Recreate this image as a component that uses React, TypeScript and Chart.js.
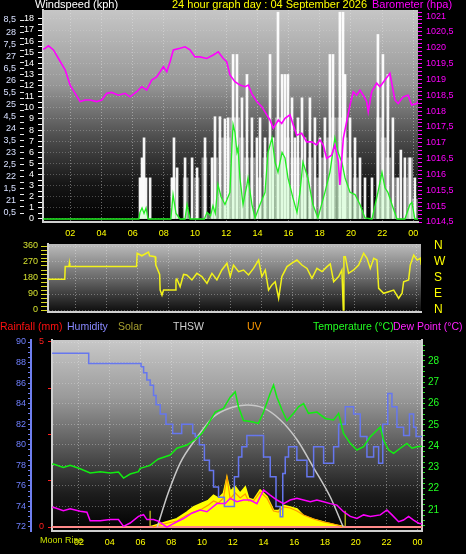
import React, { useEffect, useRef } from 'react';
import { Chart, registerables } from 'chart.js';
Chart.register(...registerables);

const FONT = "'Liberation Sans', Arial, sans-serif";
Chart.defaults.font.family = FONT;

// ---------- shared time axis ----------
const timeMin = 0.25;
const timeMax = 24.3;
const hourTicks = [2, 4, 6, 8, 10, 12, 14, 16, 18, 20, 22, 24];
const hourLabels = ['02', '04', '06', '08', '10', '12', '14', '16', '18', '20', '22', '00'];

// ---------- top panel: wind speed + barometer ----------
const windLabelValues = [0, 1, 2, 3, 4, 5, 6, 7, 8, 9, 10, 11, 12, 13, 14, 15, 16, 17, 18];
const outerAxisLabels = ['0,5', '21', '1,5', '22', '2,5', '23', '3,5', '24', '4,5', '25', '5,5', '26', '6,5', '27', '7,5', '28', '8,5'];
const baroLabelValues = [1014.5, 1015, 1015.5, 1016, 1016.5, 1017, 1017.5, 1018, 1018.5, 1019, 1019.5, 1020, 1020.5, 1021];

const baro: [number, number][] = [
  [0.26, 1019.95], [0.38, 1019.98], [0.6, 1020.06], [0.92, 1019.93], [1.24, 1019.66], [1.67, 1019.3], [1.99, 1018.82],
  [2.31, 1018.56], [2.63, 1018.3], [2.95, 1018.35], [3.27, 1018.35], [3.7, 1018.3], [4.02, 1018.35], [4.34, 1018.56],
  [4.66, 1018.59], [5.08, 1018.5], [5.51, 1018.56], [5.83, 1018.45], [6.26, 1018.61], [6.58, 1018.77], [6.9, 1018.66],
  [7.22, 1018.98], [7.54, 1019.08], [7.97, 1019.4], [8.19, 1019.24], [8.4, 1019.56], [8.61, 1019.93], [9.04, 1019.98],
  [9.36, 1020.03], [9.68, 1019.93], [10.0, 1019.71], [10.32, 1019.71], [10.75, 1019.66], [11.17, 1019.77], [11.49, 1019.87],
  [11.81, 1019.66], [12.03, 1019.56], [12.24, 1019.14], [12.56, 1018.93], [12.88, 1018.82], [13.21, 1018.77], [13.42, 1018.82],
  [13.63, 1018.56], [13.96, 1018.3], [14.28, 1018.14], [14.6, 1017.88], [14.81, 1017.72], [15.02, 1017.46], [15.34, 1017.72],
  [15.56, 1017.61], [15.77, 1017.77], [16.09, 1017.88], [16.3, 1017.56], [16.52, 1017.24], [16.84, 1017.3], [17.16, 1017.03],
  [17.48, 1017.03], [17.8, 1016.93], [18.01, 1017.09], [18.22, 1016.93], [18.44, 1016.51], [18.76, 1016.61], [18.97, 1016.93],
  [19.19, 1016.4], [19.29, 1015.67], [19.51, 1017.14], [19.72, 1017.66], [19.94, 1018.19], [20.15, 1018.61], [20.37, 1018.5],
  [20.58, 1018.66], [20.79, 1018.5], [21.01, 1018.3], [21.11, 1017.98], [21.33, 1018.61], [21.65, 1018.88], [21.86, 1018.77],
  [22.18, 1018.98], [22.5, 1019.19], [22.82, 1018.35], [23.03, 1018.24], [23.35, 1018.45], [23.67, 1018.5], [23.89, 1018.19],
  [24.21, 1018.24], [24.3, 1018.3],
];

const windAvg: [number, number][] = [
  [0.26, 0], [6.4, 0], [6.47, 0.6], [6.6, 1.0], [6.73, 0.5], [6.86, 1.0], [6.99, 0], [8.45, 0], [8.59, 2.2], [8.78, 0.5],
  [9.04, 0], [9.36, 0], [9.49, 1.3], [9.68, 0], [10.6, 0], [10.77, 0.6], [11.0, 0.3], [11.15, 1.2], [11.3, 0.5], [11.47, 3.1],
  [11.67, 2.0], [11.92, 1.3], [12.24, 2.4], [12.37, 6.7], [12.44, 8.5], [12.56, 7.8], [12.69, 6.0], [12.76, 6.4], [12.88, 3.7],
  [13.08, 1.3], [13.33, 3.1], [13.4, 3.7], [13.65, 1.3], [13.85, 0.1], [14.17, 1.3], [14.49, 2.4], [14.68, 6.0], [14.94, 7.3],
  [15.13, 5.1], [15.32, 4.2], [15.58, 6.0], [15.77, 5.5], [15.96, 3.7], [16.28, 1.9], [16.54, 0.6], [16.73, 2.4], [16.92, 5.1],
  [17.24, 3.7], [17.56, 1.3], [17.88, 0.1], [18.33, 2.4], [18.65, 4.2], [18.97, 7.3], [19.17, 6.0], [19.42, 5.1], [19.62, 3.7],
  [19.94, 2.4], [20.26, 2.2], [20.58, 1.3], [20.9, 0.1], [21.35, 0], [21.73, 2.4], [21.99, 4.2], [22.18, 2.8], [22.37, 2.4],
  [22.63, 1.3], [22.95, 0], [23.46, 0], [23.78, 1.3], [23.91, 1.5], [24.1, 0], [24.3, 0],
];

const gust: [number, number][] = [
  [6.47, 3.7], [6.6, 5.5], [6.73, 7.3], [6.86, 3.7], [7.12, 3.7], [8.53, 3.7], [8.65, 7.3], [8.85, 4.6], [9.36, 5.5],
  [9.81, 5.5], [10.13, 4.6], [10.64, 7.3], [11.09, 5.5], [11.28, 9.2], [11.6, 9.2], [11.92, 9.0], [12.12, 9.1], [12.44, 14.8],
  [12.69, 14.8], [13.01, 10.9], [13.33, 13.0], [13.65, 9.1], [13.97, 7.3], [14.17, 9.1], [14.49, 7.3], [14.81, 14.8],
  [15.0, 7.3], [15.32, 18.6], [15.58, 13], [15.77, 13], [15.96, 13], [16.22, 10.9], [16.41, 7.3], [16.6, 9.1], [16.86, 10.9],
  [17.05, 7.3], [17.37, 10.9], [17.69, 9.1], [18.01, 7.3], [18.33, 9.1], [18.65, 14.8], [18.85, 14.8], [19.29, 18.6],
  [19.49, 18.6], [19.62, 13], [19.94, 9.1], [20.26, 7.3], [20.58, 5.5], [20.9, 3.7], [21.35, 3.7], [21.73, 16.6],
  [22.05, 14.8], [22.37, 13], [22.69, 9.1], [23.01, 3.7], [23.2, 6.2], [23.46, 5.5], [23.78, 5.5], [24.1, 3.7],
];

const windHigh: [number, number][] = [
  [6.6, 3.7], [8.6, 3.7], [9.4, 3.7], [10.1, 3.7], [10.6, 5.5], [11.3, 5.5], [11.7, 7.3], [12.1, 7.3], [12.4, 9.1],
  [12.7, 9.1], [13.0, 7.3], [13.3, 5.5], [13.7, 5.5], [14.1, 3.7], [14.5, 5.5], [14.9, 7.3], [15.3, 9.1], [15.6, 9.1],
  [15.9, 7.3], [16.3, 5.5], [16.6, 5.5], [17.0, 3.7], [17.4, 5.5], [17.8, 3.7], [18.2, 5.5], [18.6, 7.3], [18.9, 9.1],
  [19.3, 9.1], [19.6, 7.3], [19.9, 5.5], [20.3, 3.7], [21.8, 9.1], [22.1, 7.3], [22.4, 5.5], [22.8, 3.7], [23.5, 3.7],
  [23.8, 5.5], [24.1, 1.8],
];

// ---------- middle panel: wind direction ----------
const dirLabelValues = [0, 90, 180, 270, 360];
const compassLabels = ['N', 'E', 'S', 'W', 'N'];
const windDir: [number, number][] = [
  [0.26, 173], [1.33, 173], [1.36, 244], [1.6, 244], [1.63, 264], [1.66, 244], [5.96, 244], [6.0, 319], [6.3, 305],
  [6.73, 326], [6.8, 305], [7.16, 300], [7.2, 253], [7.45, 200], [7.48, 112], [7.6, 84], [7.7, 112], [8.45, 112],
  [8.5, 169], [8.56, 175], [8.77, 131], [8.99, 200], [9.2, 197], [9.53, 169], [9.85, 206], [10.17, 188], [10.5, 150],
  [10.82, 206], [11.14, 169], [11.46, 225], [11.79, 263], [12.0, 188], [12.21, 253], [12.54, 216], [12.86, 225],
  [13.18, 197], [13.5, 234], [13.83, 281], [14.04, 188], [14.26, 225], [14.47, 112], [14.69, 141], [14.9, 159],
  [15.12, 66], [15.33, 188], [15.66, 244], [15.98, 263], [16.3, 281], [16.62, 253], [16.95, 234], [17.27, 178],
  [17.59, 234], [17.92, 216], [18.24, 244], [18.45, 259], [18.67, 159], [18.99, 188], [19.2, 225], [19.29, 0],
  [19.33, 300], [19.42, 300], [19.63, 206], [19.96, 225], [20.28, 253], [20.6, 319], [20.82, 291], [21.03, 234],
  [21.25, 291], [21.46, 281], [21.57, 122], [21.89, 94], [22.21, 103], [22.54, 112], [22.86, 66], [23.08, 94],
  [23.18, 159], [23.5, 169], [23.61, 253], [23.83, 309], [24.05, 281], [24.26, 291], [24.32, 253],
];

// ---------- bottom panel ----------
const humidityLabelValues = [72, 74, 76, 78, 80, 82, 84, 86, 88, 90];
const rainLabelValues = [0, 5];
const tempLabelValues = [21, 22, 23, 24, 25, 26, 27, 28];

const humidity: [number, number][] = [
  [0.26, 88.9], [2.62, 88.9], [2.65, 87.9], [5.98, 87.9], [6.1, 87.6], [6.31, 87.0], [6.52, 86.3], [6.74, 85.8],
  [6.96, 84.8], [7.07, 83.9], [7.5, 83], [7.82, 82], [8.37, 81.1], [8.58, 81.1], [8.78, 82], [9.34, 82], [9.45, 81.1],
  [9.67, 80.8], [9.99, 80], [10.32, 78.5], [10.64, 77.5], [10.86, 75.9], [11.29, 74.9], [11.62, 74], [11.94, 74],
  [12.27, 76.9], [12.48, 78.8], [12.7, 79.8], [13.13, 80.9], [13.78, 80.9], [14.22, 78.8], [14.65, 76.9], [14.97, 74],
  [15.2, 73], [15.3, 77.2], [15.52, 78.8], [15.73, 79.8], [16.6, 78.5], [17.04, 76.9], [17.47, 79.8], [18.34, 78.2],
  [18.77, 79.8], [18.99, 82], [19.64, 83.7], [20.07, 83], [20.5, 80.8], [20.94, 78.8], [21.37, 79.8], [21.59, 78.2],
  [21.91, 82], [22.24, 85], [22.45, 83.7], [22.89, 81.7], [23.32, 80.9], [23.65, 83], [23.86, 81.7], [23.97, 80.8],
  [24.3, 80.8],
];

const temperature: [number, number][] = [
  [0.26, 23.15], [0.34, 23.16], [0.99, 23.0], [1.43, 23.1], [2.08, 22.94], [2.73, 22.74], [3.38, 22.8], [4.03, 22.74],
  [4.57, 22.78], [4.9, 22.5], [5.33, 22.69], [5.87, 22.8], [5.98, 22.96], [6.42, 23.05], [6.63, 23.1], [6.96, 23.29],
  [7.17, 23.4], [7.93, 23.58], [8.37, 23.9], [9.02, 24.05], [9.67, 24.37], [9.99, 24.6], [10.42, 25.07], [10.86, 25.6],
  [11.4, 25.77], [11.83, 26.3], [12.16, 26.55], [12.37, 25.85], [12.7, 25.2], [13.24, 25.15], [13.67, 25.07], [14.0, 25.6],
  [14.43, 26.47], [14.65, 26.87], [14.87, 26.3], [15.2, 25.7], [15.52, 25.2], [15.95, 25.54], [16.27, 25.85], [16.6, 26.0],
  [16.92, 25.54], [17.47, 25.6], [18.01, 25.3], [18.55, 25.23], [18.88, 25.54], [19.2, 24.6], [19.64, 24.13], [20.07, 23.82],
  [20.5, 23.97], [20.94, 24.44], [21.59, 24.9], [21.8, 24.29], [22.13, 23.82], [22.45, 23.66], [22.89, 23.9], [23.32, 24.13],
  [23.65, 23.9], [23.97, 23.97], [24.3, 24.0],
];

const dewPoint: [number, number][] = [
  [0.26, 21.12], [0.34, 21.13], [0.99, 20.97], [1.43, 21.06], [2.08, 20.94], [2.52, 20.9], [2.73, 20.5], [3.38, 20.5],
  [4.03, 20.55], [4.57, 20.55], [4.9, 20.23], [5.33, 20.39], [5.87, 20.7], [6.2, 20.78], [6.42, 20.55], [6.85, 20.55],
  [7.17, 20.47], [7.72, 20.2], [8.37, 20.45], [8.8, 20.6], [9.34, 20.85], [9.88, 21.0], [10.32, 20.92], [10.97, 21.3],
  [11.51, 21.3], [11.83, 21.55], [12.27, 21.39], [12.7, 21.47], [13.13, 21.47], [13.57, 21.3], [14.0, 21.94], [14.43, 21.7],
  [14.87, 21.47], [15.3, 21.3], [15.73, 21.47], [16.17, 21.55], [16.6, 21.47], [17.04, 21.39], [17.47, 21.47], [17.9, 21.39],
  [18.34, 21.3], [18.77, 21.23], [19.2, 20.92], [19.64, 20.7], [20.07, 20.6], [20.5, 20.77], [20.94, 20.7], [21.59, 20.77],
  [22.02, 21.0], [22.35, 20.77], [22.78, 20.45], [23.1, 20.53], [23.43, 20.7], [23.75, 20.53], [24.08, 20.38], [24.3, 20.35],
];

const solar: [number, number][] = [
  [0.25, 0], [6.63, 0], [7.5, 28], [8.37, 55], [9.02, 100], [9.45, 135], [9.99, 160], [10.42, 180], [10.75, 215],
  [11.07, 195], [11.4, 228], [11.62, 330], [11.83, 240], [12.16, 272], [12.48, 228], [12.81, 270], [13.02, 195],
  [13.35, 182], [13.78, 250], [14.22, 205], [14.65, 112], [14.97, 110], [15.3, 145], [15.73, 134], [16.17, 122],
  [16.6, 76], [17.25, 52], [17.9, 32], [18.55, 16], [19.2, 2], [19.3, 0], [24.3, 0],
];

const solarMax: [number, number][] = [
  [7.09, 0], [7.8, 231], [8.58, 435], [9.69, 612], [10.73, 748], [11.83, 810], [12.94, 830], [13.98, 810],
  [15.08, 730], [16.19, 592], [17.23, 408], [18.34, 204], [19.18, 0],
];

const uv: [number, number][] = [
  [6.8, 0], [7.5, 0.3], [8.37, 0.6], [9.02, 1.2], [9.45, 1.5], [9.99, 1.8], [10.42, 2.2], [10.75, 2.6], [11.07, 2.4],
  [11.4, 2.9], [11.62, 5.0], [11.83, 2.8], [12.16, 3.4], [12.48, 2.9], [12.81, 3.3], [13.02, 2.6], [13.35, 2.6],
  [13.78, 3.5], [14.22, 2.9], [14.65, 1.6], [14.97, 1.5], [15.3, 2.0], [15.73, 1.9], [16.17, 1.6], [16.6, 1.2],
  [17.25, 0.8], [17.9, 0.5], [18.55, 0.3], [19.2, 0],
];

const rainfall: [number, number][] = [[0.25, 0], [24.3, 0]];
const sunEvents = [6.63, 19.31]; // sunrise, sunset (hours)

// ---------- helpers ----------
const pts = (a: [number, number][]) => a.map(([x, y]) => ({ x, y }));
const stepTicks = (from: number, to: number, step: number) => {
  const out: number[] = [];
  const n = Math.round((to - from) / step);
  for (let i = 0; i <= n; i++) out.push(from + i * step);
  return out;
};
const setTicks = (values: number[]) => (scale: any) => {
  scale.ticks = values.map((v) => ({ value: v }));
};
const setWidth = (w: number) => (scale: any) => {
  scale.width = w;
};
const setHeight = (h: number) => (scale: any) => {
  scale.height = h;
};
const isIn = (arr: number[], v: number) => arr.some((a) => Math.abs(a - v) < 1e-6);
const comma = (v: number) => String(v).replace('.', ',');

const bgPlugin = {
  id: 'panelBg',
  beforeDraw(chart: any, _args: any, opts: any) {
    const { ctx, chartArea: a } = chart;
    if (!a) return;
    const g = ctx.createLinearGradient(0, a.top, 0, a.bottom);
    (opts.stops || []).forEach(([p, c]: [number, string]) => g.addColorStop(p, c));
    ctx.save();
    ctx.fillStyle = g;
    ctx.fillRect(a.left, a.top, a.right - a.left, a.bottom - a.top);
    ctx.restore();
  },
};

const GRID = 'rgba(235,235,235,0.42)';
const FRAME = '#cfcfcf';

const xAxis = (height: number, showLabels: boolean, padding: number) => ({
  type: 'linear',
  min: timeMin,
  max: timeMax,
  offset: false,
  afterBuildTicks: setTicks(hourTicks),
  afterFit: setHeight(height),
  ticks: {
    display: showLabels,
    autoSkip: false,
    maxRotation: 0,
    color: '#ffff00',
    font: { family: FONT, size: 9 },
    padding,
    callback: (v: number) => {
      const i = hourTicks.indexOf(v);
      return i >= 0 ? hourLabels[i] : '';
    },
  },
  grid: { color: GRID, drawTicks: false, offset: false },
  border: { display: true, color: FRAME, width: 2, dash: [1, 2] },
});

const baseOptions = (padTop: number, stops: [number, string][]) => ({
  animation: false,
  responsive: false,
  maintainAspectRatio: false,
  events: [],
  layout: { padding: { top: padTop, left: 0, right: 0, bottom: 0 } },
  plugins: { legend: { display: false }, tooltip: { enabled: false }, panelBg: { stops } },
});

// ---------- chart configs ----------
function topConfig(): any {
  const windTickVals = stepTicks(0, 18, 0.5);
  const outerTickVals = stepTicks(0, 16, 0.5);
  const baroTickVals = stepTicks(1014.5, 1021.125, 0.125);
  return {
    type: 'bar',
    data: {
      datasets: [
        { type: 'line', label: 'Barometer (hpa)', data: pts(baro), yAxisID: 'yb', borderColor: '#ff00ff', borderWidth: 1.6, pointRadius: 0, order: 1 },
        { type: 'line', label: 'Windspeed (kph)', data: pts(windAvg), yAxisID: 'y', borderColor: '#22ee22', borderWidth: 1.3, pointRadius: 0, fill: 'origin', backgroundColor: 'rgba(200,255,200,0.5)', order: 2 },
        { type: 'bar', label: 'Gust', data: pts(gust), yAxisID: 'y', backgroundColor: 'rgba(255,255,255,0.95)', barThickness: 2, grouped: false, order: 3 },
        { type: 'bar', label: 'High', data: pts(windHigh), yAxisID: 'y', backgroundColor: 'rgba(230,230,230,0.5)', barThickness: 5, grouped: false, order: 4 },
      ],
    },
    options: {
      ...baseOptions(10, [[0, '#c6c6c6'], [0.35, '#979797'], [0.6, '#4e4e4e'], [0.82, '#161616'], [1, '#000000']]),
      scales: {
        x: xAxis(20, true, 6),
        yo: {
          type: 'linear', position: 'left', weight: 10, min: -0.746, max: 16.83,
          afterBuildTicks: setTicks(outerTickVals), afterFit: setWidth(24),
          ticks: { autoSkip: false, color: '#d8e0ff', font: { family: FONT, size: 9 }, padding: 4, callback: (v: number) => (Number.isInteger(v) ? outerAxisLabels[v] : '') },
          grid: { drawOnChartArea: false, tickColor: '#e8e8e8', tickLength: 4 },
          border: { display: false },
        },
        y: {
          type: 'linear', position: 'left', weight: 0, min: -0.27, max: 18.8,
          afterBuildTicks: setTicks(windTickVals), afterFit: setWidth(19),
          ticks: { autoSkip: false, color: '#ffffff', font: { family: FONT, size: 9 }, padding: 4, callback: (v: number) => (isIn(windLabelValues, v) ? String(v) : '') },
          grid: { color: (c: any) => (c.tick && Number.isInteger(c.tick.value) ? 'rgba(220,220,220,0.3)' : 'transparent'), tickColor: '#ffffff', tickLength: 5 },
          border: { display: true, color: FRAME, width: 2, dash: [1, 2] },
        },
        yb: {
          type: 'linear', position: 'right', min: 1014.5, max: 1021.19,
          afterBuildTicks: setTicks(baroTickVals), afterFit: setWidth(48),
          ticks: { autoSkip: false, color: '#ff00ff', font: { family: FONT, size: 9 }, padding: 4, callback: (v: number) => (isIn(baroLabelValues, v) ? comma(v) : '') },
          grid: { drawOnChartArea: false, tickColor: '#ff00ff', tickLength: 4 },
          border: { display: false },
        },
      },
    },
    plugins: [bgPlugin],
  };
}

function midConfig(): any {
  const dirTickVals = stepTicks(0, 360, 22.5);
  return {
    type: 'line',
    data: {
      datasets: [
        { label: 'Wind direction', data: pts(windDir), borderColor: '#f2f21a', borderWidth: 1.5, pointRadius: 0, yAxisID: 'y' },
      ],
    },
    options: {
      ...baseOptions(9, [[0, '#bcbcbc'], [0.5, '#6a6a6a'], [1, '#0c0c0c']]),
      scales: {
        x: xAxis(10, false, 0),
        y: {
          type: 'linear', position: 'left', min: -11.25, max: 371.25,
          afterBuildTicks: setTicks(dirTickVals), afterFit: setWidth(48),
          ticks: { autoSkip: false, color: '#d4e030', font: { family: FONT, size: 9 }, padding: 3, callback: (v: number) => (isIn(dirLabelValues, v) ? String(v) : '') },
          grid: { color: (c: any) => (c.tick && c.tick.value % 90 === 0 ? 'rgba(230,230,230,0.35)' : 'transparent'), tickColor: '#d8d820', tickLength: 7 },
          border: { display: true, color: FRAME, width: 2, dash: [1, 2] },
        },
        yr: {
          type: 'linear', position: 'right', min: -11.25, max: 371.25,
          afterBuildTicks: setTicks(dirLabelValues), afterFit: setWidth(45),
          ticks: { autoSkip: false, color: '#ffff00', font: { family: FONT, size: 12 }, padding: 1, callback: (v: number) => compassLabels[dirLabelValues.indexOf(v)] },
          grid: { drawOnChartArea: false, drawTicks: true, tickLength: 12, tickColor: 'transparent' },
          border: { display: false },
        },
      },
    },
    plugins: [bgPlugin],
  };
}

function bottomConfig(): any {
  const humTickVals = stepTicks(72, 90, 0.5);
  const rainTickVals = stepTicks(0, 5, 1.25);
  const tempTickVals = stepTicks(20.25, 28.75, 0.25);
  const sunMarkHeight = 110;
  return {
    type: 'line',
    data: {
      datasets: [
        { label: 'Dew Point (°C)', data: pts(dewPoint), yAxisID: 'yt', borderColor: '#ff00ff', borderWidth: 1.5, pointRadius: 0, order: 1 },
        { label: 'Temperature (°C)', data: pts(temperature), yAxisID: 'yt', borderColor: '#11ee11', borderWidth: 1.5, pointRadius: 0, order: 2 },
        { label: 'Humidity', data: pts(humidity), yAxisID: 'yh', borderColor: '#6677ee', borderWidth: 1.5, pointRadius: 0, stepped: 'middle', order: 3 },
        { label: 'Solar max', data: pts(solarMax), yAxisID: 'ys', borderColor: '#c8c8c8', borderWidth: 1.5, pointRadius: 0, cubicInterpolationMode: 'monotone', order: 4 },
        { label: 'UV', data: pts(uv), yAxisID: 'yu', borderColor: '#ff9900', borderWidth: 1.2, pointRadius: 0, order: 5 },
        { label: 'Rainfall (mm)', data: pts(rainfall), yAxisID: 'yr', borderColor: '#ff8a8a', borderWidth: 2, pointRadius: 0, order: 6 },
        ...sunEvents.map((h) => ({ label: 'sun', data: [{ x: h, y: 0 }, { x: h, y: sunMarkHeight }], yAxisID: 'ys', borderColor: '#a8a820', borderWidth: 1.5, pointRadius: 0, order: 7 })),
        { label: 'Solar', data: pts(solar), yAxisID: 'ys', borderColor: '#ffff00', borderWidth: 2, pointRadius: 0, fill: 'origin', backgroundColor: '#ffff00', order: 8 },
      ],
    },
    options: {
      ...baseOptions(22, [[0, '#c8c8c8'], [0.3, '#9a9a9a'], [0.55, '#5c5c5c'], [0.8, '#1e1e1e'], [1, '#000000']]),
      scales: {
        x: xAxis(23, true, 6),
        yh: {
          type: 'linear', position: 'left', weight: 10, min: 71.61, max: 90.195,
          afterBuildTicks: setTicks(humTickVals), afterFit: setWidth(31),
          ticks: { autoSkip: false, color: '#7080ff', font: { family: FONT, size: 9 }, padding: 2, callback: (v: number) => (isIn(humidityLabelValues, v) ? String(v) : '') },
          grid: { color: (c: any) => (c.tick && c.tick.value % 2 === 0 ? 'rgba(230,230,230,0.35)' : 'transparent'), tickColor: '#6f7ff0', tickLength: 3 },
          border: { display: true, color: '#6f7ff0', width: 2, dash: [1, 2] },
        },
        yr: {
          type: 'linear', position: 'left', weight: 0, min: -0.108, max: 5.054,
          afterBuildTicks: setTicks(rainTickVals), afterFit: setWidth(21),
          ticks: { autoSkip: false, color: '#ff2020', font: { family: FONT, size: 9 }, padding: 4, callback: (v: number) => (isIn(rainLabelValues, v) ? String(v) : '') },
          grid: { drawOnChartArea: false, tickColor: '#ff2020', tickLength: 4 },
          border: { display: true, color: FRAME, width: 2 },
        },
        yt: {
          type: 'linear', position: 'right', min: 20.014, max: 28.986,
          afterBuildTicks: setTicks(tempTickVals), afterFit: setWidth(44),
          ticks: { autoSkip: false, color: '#22ff22', font: { family: FONT, size: 10 }, padding: 3, callback: (v: number) => (isIn(tempLabelValues, v) ? String(v) : '') },
          grid: { drawOnChartArea: false, tickColor: '#22dd22', tickLength: 3 },
          border: { display: true, color: FRAME, width: 2 },
        },
        ys: { type: 'linear', display: false, min: -27, max: 1272 },
        yu: { type: 'linear', display: false, min: -0.4, max: 18.7 },
      },
    },
    plugins: [bgPlugin],
  };
}

function ChartCanvas({ make, top, height }: { make: () => any; top: number; height: number }) {
  const ref = useRef<HTMLCanvasElement>(null);
  useEffect(() => {
    const chart = new Chart(ref.current as HTMLCanvasElement, make());
    return () => chart.destroy();
  }, []);
  return <canvas ref={ref} width={466} height={height} style={{ position: 'absolute', left: 0, top, width: 466, height }} />;
}

const Label = ({ x, y, color, size, children }: any) => (
  <span style={{ position: 'absolute', left: x, top: y, color, fontSize: size, lineHeight: `${size}px`, fontFamily: FONT, whiteSpace: 'nowrap' }}>{children}</span>
);

export default function App() {
  return (
    <div style={{ position: 'fixed', left: 0, top: 0, width: 466, height: 554, background: '#000', overflow: 'hidden' }}>
      <ChartCanvas make={topConfig} top={0} height={242} />
      <ChartCanvas make={midConfig} top={235} height={87} />
      <ChartCanvas make={bottomConfig} top={318} height={236} />
      <Label x={35} y={-1} color="#ffffff" size={11}>Windspeed (kph)</Label>
      <Label x={172} y={-1} color="#ffff00" size={11}>24 hour graph day : 04 September 2026</Label>
      <Label x={372} y={-1} color="#ff00ff" size={11}>Barometer (hpa)</Label>
      <Label x={0} y={321} color="#ff1010" size={10.5}>Rainfall (mm)</Label>
      <Label x={67} y={321} color="#8888ff" size={10.5}>Humidity</Label>
      <Label x={118} y={321} color="#a8a030" size={10.5}>Solar</Label>
      <Label x={173} y={321} color="#d0d0d0" size={10.5}>THSW</Label>
      <Label x={247} y={321} color="#ff9900" size={10.5}>UV</Label>
      <Label x={313} y={321} color="#22ff22" size={10.5}>Temperature (°C)</Label>
      <Label x={393} y={321} color="#ff22ff" size={10.5}>Dew Point (°C)</Label>
      <Label x={40} y={536} color="#c8e000" size={9}>Moon Rise</Label>
    </div>
  );
}
